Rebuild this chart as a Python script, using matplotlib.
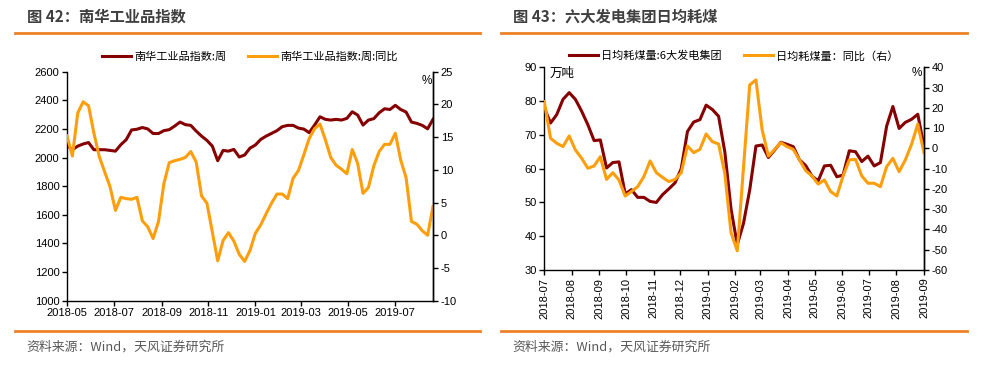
import matplotlib
matplotlib.use("Agg")
import matplotlib.pyplot as plt
import matplotlib.dates as mdates
from matplotlib.lines import Line2D
import pandas as pd
import numpy as np

plt.rcParams['font.family'] = ['Noto Sans CJK SC', 'DejaVu Sans']
plt.rcParams['axes.unicode_minus'] = False

# ---------------- Data: left chart (weekly) ----------------
nanhua_start = "2018-05-01"
nanhua_index = [2085, 2055, 2080, 2095, 2105, 2055, 2055, 2055, 2050, 2045,
                2090, 2125, 2193, 2198, 2210, 2200, 2168, 2168, 2188, 2195,
                2220, 2248, 2230, 2225, 2185, 2150, 2120, 2080, 1978, 2050,
                2045, 2057, 2004, 2018, 2066, 2088, 2127, 2150, 2169, 2188,
                2216, 2225, 2225, 2206, 2199, 2174, 2227, 2285, 2267, 2262,
                2267, 2262, 2274, 2320, 2297, 2227, 2262, 2272, 2313, 2341,
                2336, 2365, 2336, 2318, 2248, 2239, 2225, 2201, 2267]
nanhua_yoy = [15.2, 12.1, 18.7, 20.4, 19.8, 15.6, 12.0, 9.7, 7.4, 3.8,
              5.8, 5.6, 5.5, 5.8, 2.2, 1.3, -0.5, 2.1, 7.9, 11.1,
              11.4, 11.6, 11.9, 12.8, 11.2, 6.0, 4.9, 0.5, -3.9, -0.8,
              0.4, -0.9, -2.9, -4.0, -2.3, 0.3, 1.6, 3.3, 4.9, 6.3,
              6.3, 5.6, 8.7, 9.9, 12.3, 14.8, 16.3, 17.0, 14.6, 11.9,
              10.7, 10.1, 9.4, 13.1, 11.0, 6.4, 7.3, 10.6, 12.8, 13.9,
              13.9, 15.6, 11.5, 8.8, 2.1, 1.7, 0.7, 0.0, 4.4]
nanhua_labels = ["南华工业品指数:周", "南华工业品指数:周:同比"]

# ---------------- Data: right chart (weekly) ----------------
coal_start = "2018-07-01"
coal_daily = [78.0, 73.5, 76.0, 80.5, 82.5, 80.5, 77.0, 73.0, 68.3, 68.5,
              60.2, 61.8, 62.0, 52.5, 53.8, 51.5, 51.5, 50.3, 50.0, 52.3,
              54.0, 55.8, 60.0, 71.0, 73.8, 74.5, 78.8, 77.5, 75.5, 65.0,
              48.0, 37.5, 43.8, 53.7, 66.7, 67.0, 63.3, 65.5, 67.8, 67.2,
              66.5, 62.6, 60.9, 57.8, 56.4, 60.8, 61.0, 57.6, 58.1, 65.3,
              65.0, 62.1, 63.7, 60.8, 61.8, 72.6, 78.4, 71.9, 73.7, 74.6,
              76.1, 66.5]
coal_yoy = [23.1, 5.0, 2.5, 0.9, 6.1, -0.8, -4.9, -9.8, -8.7, -4.1,
            -15.3, -12.0, -15.6, -23.5, -21.3, -18.9, -13.9, -6.2, -12.0, -14.3,
            -16.4, -15.3, -12.0, 1.2, -2.1, -0.5, 7.1, 3.3, 2.2, -12.3,
            -41.6, -50.5, -9.5, 31.3, 33.8, 9.1, -3.8, -0.5, 2.8, 0.9,
            -0.5, -5.7, -11.0, -13.6, -17.6, -15.6, -21.3, -23.5, -13.6, -5.7,
            -5.4, -13.6, -17.2, -17.2, -18.9, -9.0, -4.9, -11.5, -5.7, 2.0,
            12.0, -2.1]
coal_labels = ["日均耗煤量:6大发电集团", "日均耗煤量：同比（右）"]

titles = ["图 42：南华工业品指数", "图 43：六大发电集团日均耗煤"]
source = "资料来源：Wind，天风证券研究所"

BROWN = "#860000"
ORANGE = "#FF9E0C"
LINE_ORANGE = "#EE8127"
TICKFONT = "Liberation Sans"

W, H = 993, 368
fig = plt.figure(figsize=(W / 100, H / 100), dpi=100)


def fx(px):
    return px / W


def fy(py):
    return 1 - py / H


def style_axis(ax):
    ax.spines['top'].set_visible(False)
    for s in ax.spines.values():
        s.set_linewidth(1.0)
        s.set_color('black')
    ax.tick_params(direction='out', length=3.5, width=1.0, labelsize=8,
                   colors='black', pad=2)
    for lab in ax.get_xticklabels() + ax.get_yticklabels():
        lab.set_fontfamily(TICKFONT)


# ================= Left chart =================
d1 = pd.date_range(nanhua_start, periods=len(nanhua_index), freq="7D")
ax1 = fig.add_axes([fx(67), fy(300.7), fx(433) - fx(67), fy(71.7) - fy(300.7)])
ax1b = ax1.twinx()
l1, = ax1.plot(d1, nanhua_index, color=BROWN, lw=2.2, solid_joinstyle='round')
l2, = ax1b.plot(d1, nanhua_yoy, color=ORANGE, lw=2.2, solid_joinstyle='round')
ax1.set_xlim(d1[0], d1[-1])
ax1.set_ylim(1000, 2600)
ax1.set_yticks(np.arange(1000, 2601, 200))
ax1b.set_ylim(-10, 25)
ax1b.set_yticks(np.arange(-10, 26, 5))
ax1.xaxis.set_major_locator(mdates.MonthLocator(bymonth=[1, 3, 5, 7, 9, 11]))
ax1.xaxis.set_major_formatter(mdates.DateFormatter('%Y-%m'))
style_axis(ax1)
style_axis(ax1b)
ax1b.spines['left'].set_visible(False)
ax1b.spines['bottom'].set_visible(False)
for lab in ax1.get_xticklabels():
    lab.set_fontfamily(TICKFONT)
ax1b.text(fx(427), fy(81), "%", transform=fig.transFigure, ha='center',
          va='center', fontsize=8.5, fontfamily=TICKFONT)
ax1.legend([l1, l2], nanhua_labels, ncol=2, frameon=False, fontsize=8,
           loc='center', bbox_to_anchor=(fx(250), fy(57)),
           bbox_transform=fig.transFigure, handlelength=2.6,
           columnspacing=2.0, handletextpad=0.3, borderpad=0)

# ================= Right chart =================
d2 = pd.date_range(coal_start, periods=len(coal_daily), freq="7D")
ax2 = fig.add_axes([fx(544.3), fy(270), fx(924) - fx(544.3), fy(67.3) - fy(270)])
ax2b = ax2.twinx()
r1, = ax2.plot(d2, coal_daily, color=BROWN, lw=2.2, solid_joinstyle='round')
r2, = ax2b.plot(d2, coal_yoy, color=ORANGE, lw=2.2, solid_joinstyle='round')
ax2.set_xlim(d2[0], d2[-1])
ax2.set_ylim(30, 90)
ax2.set_yticks(np.arange(30, 91, 10))
ax2b.set_ylim(-60, 40)
ax2b.set_yticks(np.arange(-60, 41, 10))
ax2.xaxis.set_major_locator(mdates.MonthLocator())
ax2.xaxis.set_major_formatter(mdates.DateFormatter('%Y-%m'))
style_axis(ax2)
style_axis(ax2b)
ax2b.spines['left'].set_visible(False)
ax2b.spines['bottom'].set_visible(False)
for lab in ax2.get_xticklabels():
    lab.set_rotation(90)
    lab.set_fontfamily(TICKFONT)
ax2.text(fx(550), fy(73), "万吨", transform=fig.transFigure, ha='left',
         va='center', fontsize=9)
ax2.text(fx(917), fy(73), "%", transform=fig.transFigure, ha='center',
         va='center', fontsize=8.5, fontfamily=TICKFONT)
ax2.legend([r1, r2], coal_labels, ncol=2, frameon=False, fontsize=8,
           loc='center', bbox_to_anchor=(fx(734), fy(56)),
           bbox_transform=fig.transFigure, handlelength=2.6,
           columnspacing=2.0, handletextpad=0.3, borderpad=0)

# ================= Titles, rules, sources =================
for x0, x1, tx, title in [(15, 480, 27, titles[0]), (501, 967, 513, titles[1])]:
    fig.text(fx(tx), fy(17), title, fontsize=11,
             fontweight='bold', color='#3F3F3F', ha='left', va='center')
    fig.add_artist(Line2D([fx(x0), fx(x1)], [fy(32.5), fy(32.5)],
                          transform=fig.transFigure, color=LINE_ORANGE, lw=2.0))
    fig.add_artist(Line2D([fx(x0), fx(x1)], [fy(330.7), fy(330.7)],
                          transform=fig.transFigure, color=LINE_ORANGE, lw=2.0))
    fig.text(fx(tx - 1), fy(347), source, fontsize=9.3, color='#595959',
             ha='left', va='center')

fig.savefig("out.png", dpi=100)
